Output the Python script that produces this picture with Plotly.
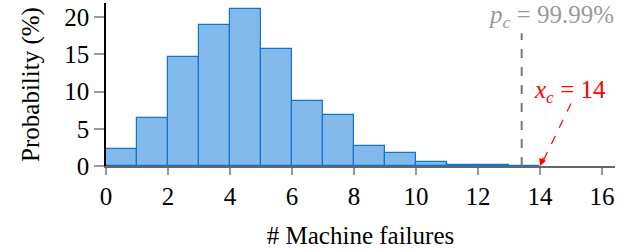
import plotly.graph_objects as go

bin_left = [0, 1, 2, 3, 4, 5, 6, 7, 8, 9, 10, 11, 12, 13]
probability = [2.3, 6.4, 14.7, 19.0, 21.1, 15.7, 8.8, 6.8, 2.7, 1.7, 0.5, 0.12, 0.08, 0.05]
x_ticks = [0, 2, 4, 6, 8, 10, 12, 14, 16]
y_ticks = [0, 5, 10, 15, 20]
p_c_x = 13.41
x_c = 14

FONT = "Liberation Serif"
FS = 25

fig = go.Figure()
fig.add_trace(go.Bar(
    x=[b + 0.5 for b in bin_left], y=probability, width=1,
    marker=dict(color="#80b9ea", line=dict(color="#1273d1", width=1.2)),
))

fig.add_shape(type="line", x0=p_c_x, x1=p_c_x, y0=0, y1=17.85,
              line=dict(color="#777777", width=2, dash="dash"))
fig.add_annotation(x=14.35, y=20.1, text="<i>p</i><sub><i>c</i></sub> = 99.99%",
                   showarrow=False, font=dict(family=FONT, size=FS, color="#999999"))
# dashed arrow shaft
fig.add_shape(type="line", x0=15.0, y0=8.4, x1=x_c + 0.06, y1=0.3,
              line=dict(color="red", width=1.2, dash="dash"))
# arrow head
fig.add_annotation(x=x_c, y=0, ax=4, ay=-10, axref="pixel", ayref="pixel",
                   text="", showarrow=True, arrowhead=2, arrowsize=1.2, arrowwidth=1.2,
                   arrowcolor="red")
fig.add_annotation(x=14.97, y=9.95, text="<i>x</i><sub><i>c</i></sub> = 14",
                   showarrow=False, font=dict(family=FONT, size=FS, color="red"))

fig.update_layout(
    width=629, height=252,
    margin=dict(l=106, r=14, t=3, b=86),
    plot_bgcolor="white", paper_bgcolor="white",
    showlegend=False, bargap=0,
    font=dict(family=FONT, size=FS, color="black"),
)
fig.update_xaxes(range=[0, 16.42], tickvals=x_ticks, showgrid=False, zeroline=False,
                 showline=True, linecolor="#666666", linewidth=1.5,
                 ticks="outside", ticklen=7, tickcolor="#999999", tickwidth=1.5,
                 title=dict(text="# Machine failures", standoff=18, font=dict(size=FS)),
                 tickfont=dict(size=FS), automargin=False)
fig.update_yaxes(range=[0, 21.9], tickvals=y_ticks, showgrid=False, zeroline=False,
                 showline=True, linecolor="black", linewidth=1.5,
                 ticks="outside", ticklen=10, tickcolor="#999999", tickwidth=1.5,
                 title=dict(text="Probability (%)", standoff=18, font=dict(size=FS)),
                 tickfont=dict(size=FS), automargin=False)

fig.write_html("out.html", config={"displayModeBar": False},
               post_script="document.body.style.margin='0';")
